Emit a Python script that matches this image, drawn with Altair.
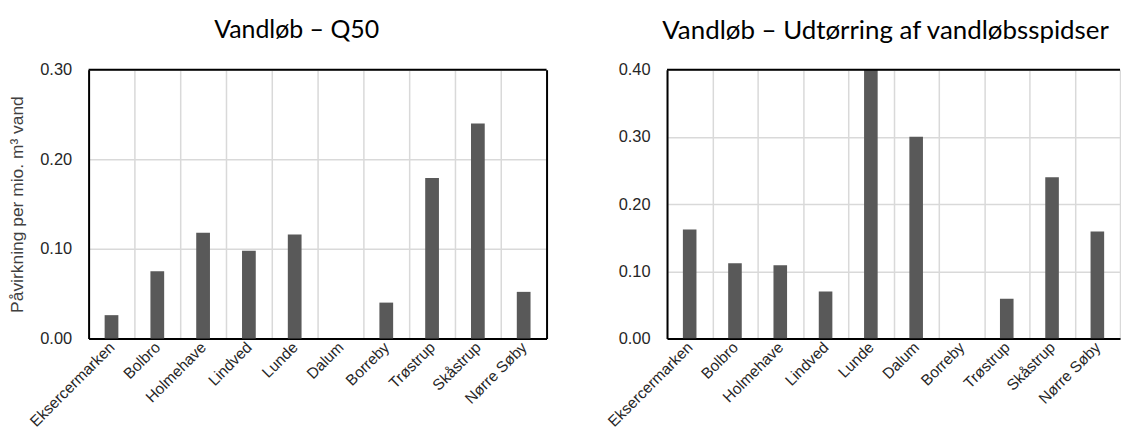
import altair as alt
import pandas as pd

categories = ["Eksercermarken", "Bolbro", "Holmehave", "Lindved", "Lunde",
              "Dalum", "Borreby", "Trøstrup", "Skåstrup", "Nørre Søby"]
q50_values = [0.026, 0.075, 0.118, 0.098, 0.116, 0.0, 0.040, 0.179, 0.240, 0.052]
udt_values = [0.162, 0.112, 0.109, 0.070, 0.40, 0.30, 0.0, 0.059, 0.240, 0.159]
left_title = "Vandløb – Q50"
right_title = "Vandløb – Udtørring af vandløbsspidser"
y_title = "Påvirkning per mio. m³ vand"
left_ticks = [0.0, 0.1, 0.2, 0.3]
right_ticks = [0.0, 0.1, 0.2, 0.3, 0.4]

df_left = pd.DataFrame({"cat": categories, "v": q50_values})
df_right = pd.DataFrame({"cat": categories, "v": udt_values})

BAR = "#595959"
GRID = "#d9d9d9"
LABEL_FONT = "Liberation Sans"
TITLE_FONT = "Lato"


def x_enc():
    return alt.X(
        "cat:N", sort=categories,
        scale=alt.Scale(paddingInner=0, paddingOuter=0),
        axis=alt.Axis(title=None, labelAngle=315, labelAlign="right", labelBaseline="middle",
                      tickBand="extent", grid=True, gridColor=GRID, gridWidth=1.5,
                      ticks=False, domain=True, domainColor="black", domainWidth=2,
                      labelFont=LABEL_FONT, labelFontSize=15.5, labelColor="#262626",
                      labelPadding=6),
    )


def y_enc(ticks, title):
    ax = dict(values=ticks, format=".2f", grid=True, gridColor=GRID, gridWidth=1.5,
              ticks=False, domain=True, domainColor="black", domainWidth=2,
              labelFont=LABEL_FONT, labelFontSize=16.5, labelColor="#262626",
              labelPadding=17)
    if title:
        ax.update(title=title, titleFont=LABEL_FONT, titleFontSize=17.5,
                  titleFontWeight="normal", titleColor="#404040", titlePadding=13)
    else:
        ax.update(title=None)
    return alt.Y("v:Q", scale=alt.Scale(domain=[ticks[0], ticks[-1]], nice=False),
                 axis=alt.Axis(**ax))


def top_rule(ticks, with_right_axis):
    if with_right_axis:
        y = alt.Y("v:Q", axis=alt.Axis(orient="right", labels=False, ticks=False, grid=False,
                                       domain=True, domainColor="black", domainWidth=2,
                                       title=None))
    else:
        y = alt.Y("v:Q")
    return alt.Chart(pd.DataFrame({"v": [ticks[-1]]})).mark_rule(
        color="black", strokeWidth=2).encode(y=y)


left_bars = alt.Chart(df_left).mark_bar(color=BAR, width=alt.RelativeBandSize(0.3)).encode(
    x=x_enc(), y=y_enc(left_ticks, y_title)
)
left = alt.layer(left_bars, top_rule(left_ticks, True)).resolve_axis(y="independent").properties(
    width=460, height=270,
    title=alt.TitleParams(left_title, font=TITLE_FONT, fontSize=25, fontWeight="normal",
                          color="black", anchor="middle", offset=19, dx=-21),
)

right_bars = alt.Chart(df_right).mark_bar(color=BAR, width=alt.RelativeBandSize(0.3), clip=True).encode(
    x=x_enc(), y=y_enc(right_ticks, None)
)
right = alt.layer(right_bars, top_rule(right_ticks, False)).properties(
    width=455, height=270,
    title=alt.TitleParams(right_title, font=TITLE_FONT, fontSize=26, fontWeight="normal",
                          color="black", anchor="middle", offset=18, dx=-8),
)

chart = alt.hconcat(left, right, spacing=58).properties(
    padding={"left": 8, "top": 17, "right": 0, "bottom": 0},
    background="white",
).configure_view(stroke=None)

chart.save("out.html", embed_options={"renderer": "svg", "actions": False})
